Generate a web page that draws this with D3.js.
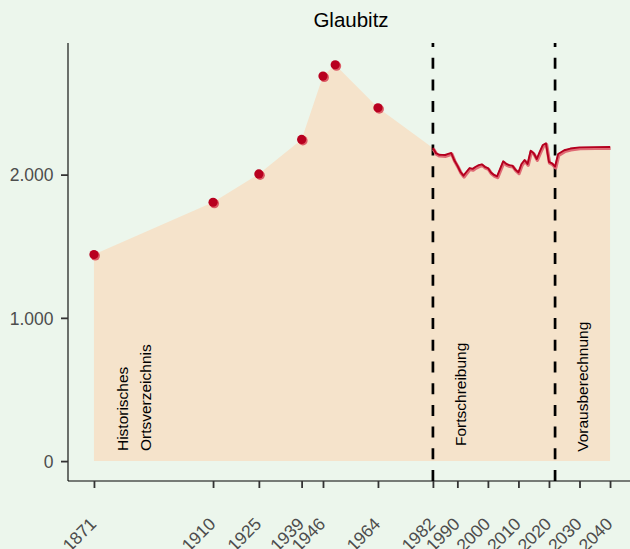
<!DOCTYPE html>
<html>
<head>
<meta charset="utf-8">
<script src="https://cdn.jsdelivr.net/npm/d3@7"></script>
<style>
  body { margin: 0; background: #ecf6ec; }
  svg { display: block; font-family: "Liberation Sans", Arial, sans-serif; }
</style>
</head>
<body>
<svg id="chart" width="630" height="549"></svg>
<script>

// historische Ortsverzeichnis-Werte
let histYears = [1871, 1910, 1925, 1939, 1946, 1950, 1964];
let histPop = [1442, 1807, 2005, 2246, 2688, 2767, 2467];

// Fortschreibung + Vorausberechnung
let seriesYears = [1982, 1983, 1984, 1985, 1986, 1987, 1988, 1989, 1990, 1991, 1992, 1993, 1994, 1995, 1996, 1997, 1998, 1999,
  2000, 2001, 2002, 2003, 2004, 2005, 2006, 2007, 2008, 2009, 2010, 2011, 2012, 2013, 2014, 2015, 2016, 2017, 2018, 2019,
  2020, 2021, 2022, 2023, 2025, 2027, 2030, 2035, 2040];
let seriesPop = [2186, 2150, 2139, 2138, 2137, 2145, 2151, 2100, 2063, 2020, 1993, 2020, 2046, 2040, 2055, 2066, 2072, 2055,
  2046, 2015, 1998, 1988, 2040, 2093, 2075, 2066, 2063, 2035, 2016, 2074, 2102, 2074, 2167, 2149, 2109, 2160, 2207, 2219,
  2089, 2079, 2056, 2144, 2170, 2182, 2190, 2192, 2193];

let tickYears = [1871, 1910, 1925, 1939, 1946, 1964, 1982, 1990, 2000, 2010, 2020, 2030, 2040];
let yTicks = [0, 1000, 2000];
let breakYears = [1982, 2022];

let labels = [
  { lines: ["Historisches", "Ortsverzeichnis"], year: 1882.1, value: 70 },
  { lines: ["Fortschreibung"], year: 1992.8, value: 105 },
  { lines: ["Vorausberechnung"], year: 2032.7, value: 65 }
];

let titleText = "Glaubitz";

var svg = d3.select("#chart");

// panel: x 68..636, y 43..481
var x = d3.scaleLinear().domain([1862.5, 2048.5]).range([68, 636]);
var y = d3.scaleLinear().domain([-139, 2919]).range([481, 43]);

var allData = histYears.map(function(d, i) { return { year: d, pop: histPop[i] }; })
  .concat(seriesYears.map(function(d, i) { return { year: d, pop: seriesPop[i] }; }));
var lineData = seriesYears.map(function(d, i) { return { year: d, pop: seriesPop[i] }; });
var pointData = histYears.map(function(d, i) { return { year: d, pop: histPop[i] }; });

// area under everything
var area = d3.area()
  .x(function(d) { return x(d.year); })
  .y0(y(0))
  .y1(function(d) { return y(d.pop); });

svg.append("path")
  .datum(allData)
  .attr("d", area)
  .attr("fill", "#f5e3cb");

// axes
var fmt = function(d) { return d3.format(",")(d).replace(/,/g, "."); };

var xAxis = svg.append("g")
  .attr("transform", "translate(0,481)")
  .call(d3.axisBottom(x).tickValues(tickYears).tickSize(7).tickFormat(d3.format("d")));
xAxis.select(".domain").attr("d", "M68,0H630").attr("stroke", "#000").attr("stroke-width", 1.1);
xAxis.selectAll(".tick line").attr("stroke", "#333").attr("stroke-width", 1.8);
xAxis.selectAll(".tick text")
  .attr("fill", "#4d4d4d")
  .style("font-size", "17.5px")
  .attr("text-anchor", "end")
  .attr("dy", 0)
  .attr("y", 0)
  .attr("transform", "translate(3,44) rotate(-45)");

var yAxis = svg.append("g")
  .attr("transform", "translate(68,0)")
  .call(d3.axisLeft(y).tickValues(yTicks).tickSize(7).tickFormat(fmt));
yAxis.select(".domain").attr("d", "M0,43V481").attr("stroke", "#000").attr("stroke-width", 1.1);
yAxis.selectAll(".tick line").attr("stroke", "#333").attr("stroke-width", 1.8);
yAxis.selectAll(".tick text")
  .attr("fill", "#4d4d4d")
  .style("font-size", "17.5px")
  .attr("x", -14.5)
  .attr("dy", "0.36em");

// dashed break lines
svg.selectAll(".brk")
  .data(breakYears)
  .enter().append("line")
  .attr("class", "brk")
  .attr("x1", function(d) { return x(d); })
  .attr("x2", function(d) { return x(d); })
  .attr("y1", 481)
  .attr("y2", 43)
  .attr("stroke", "#000")
  .attr("stroke-width", 2.7)
  .attr("stroke-dasharray", "11,10.7");

// line, two layers
var line = d3.line()
  .x(function(d) { return x(d.year); })
  .y(function(d) { return y(d.pop); });

svg.append("path")
  .datum(lineData)
  .attr("d", line)
  .attr("transform", "translate(0.6,1.2)")
  .attr("fill", "none")
  .attr("stroke", "#df6a74")
  .attr("stroke-width", 3.4)
  .attr("stroke-linejoin", "round");

svg.append("path")
  .datum(lineData)
  .attr("d", line)
  .attr("fill", "none")
  .attr("stroke", "#b4001f")
  .attr("stroke-width", 1.9)
  .attr("stroke-linejoin", "round");

// points (light one below, dark one on top)
svg.selectAll(".pt2")
  .data(pointData)
  .enter().append("circle")
  .attr("class", "pt2")
  .attr("cx", function(d) { return x(d.year) + 1.3; })
  .attr("cy", function(d) { return y(d.pop) + 1.3; })
  .attr("r", 4.7)
  .attr("fill", "#dc5c66");

svg.selectAll(".pt")
  .data(pointData)
  .enter().append("circle")
  .attr("class", "pt")
  .attr("cx", function(d) { return x(d.year); })
  .attr("cy", function(d) { return y(d.pop); })
  .attr("r", 4.6)
  .attr("fill", "#b8001f");

// rotated labels
labels.forEach(function(l) {
  var t = svg.append("text")
    .attr("transform", "translate(" + x(l.year) + "," + y(l.value) + ") rotate(-90)")
    .attr("fill", "#000")
    .style("font-size", "15.5px");
  l.lines.forEach(function(s, i) {
    t.append("tspan").attr("x", 0).attr("y", i * 23).text(s);
  });
});

// title
svg.append("text")
  .attr("x", 351)
  .attr("y", 27)
  .attr("text-anchor", "middle")
  .attr("fill", "#000")
  .style("font-size", "20.5px")
  .text(titleText);

</script>
</body>
</html>
